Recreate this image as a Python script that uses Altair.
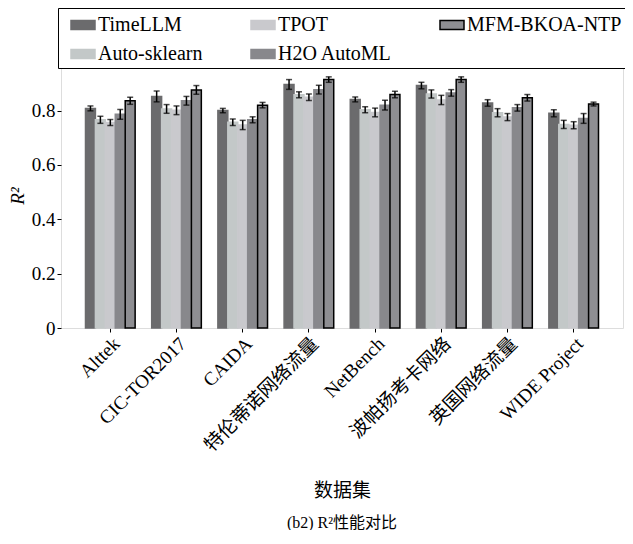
import altair as alt
import pandas as pd

datasets = ["Alttek", "CIC-TOR2017", "CAIDA", "特伦蒂诺网络流量", "NetBench",
            "波帕扬考卡网络", "英国网络流量", "WIDE Project"]
models = ["TimeLLM", "Auto-sklearn", "TPOT", "H2O AutoML", "MFM-BKOA-NTP"]

timellm = [0.808, 0.852, 0.800, 0.896, 0.841, 0.892, 0.828, 0.790]
autosk = [0.766, 0.806, 0.757, 0.858, 0.803, 0.861, 0.792, 0.749]
tpot = [0.756, 0.801, 0.747, 0.849, 0.793, 0.839, 0.776, 0.746]
h2o = [0.786, 0.836, 0.766, 0.877, 0.820, 0.865, 0.810, 0.771]
mfm = [0.836, 0.876, 0.820, 0.914, 0.859, 0.914, 0.847, 0.824]

err_timellm = [0.009, 0.020, 0.008, 0.018, 0.009, 0.012, 0.012, 0.013]
err_autosk = [0.013, 0.016, 0.012, 0.011, 0.011, 0.015, 0.015, 0.015]
err_tpot = [0.011, 0.016, 0.017, 0.012, 0.016, 0.017, 0.013, 0.013]
err_h2o = [0.018, 0.016, 0.011, 0.016, 0.018, 0.012, 0.012, 0.018]
err_mfm = [0.013, 0.016, 0.010, 0.010, 0.012, 0.010, 0.012, 0.007]

fills = ["#6b6b6d", "#c3c8c8", "#c9c9cd", "#88888c", "#8e8e92"]
strokes = ["#6b6b6d", "#c3c8c8", "#c9c9cd", "#88888c", "#000000"]

vals = [timellm, autosk, tpot, h2o, mfm]
errs = [err_timellm, err_autosk, err_tpot, err_h2o, err_mfm]
rows = []
for m, v, e in zip(models, vals, errs):
    for d, vv, ee in zip(datasets, v, e):
        rows.append({"dataset": d, "model": m, "r2": vv, "lo": vv - ee, "hi": vv + ee})
df = pd.DataFrame(rows)

FONT = "Liberation Serif, Noto Sans CJK SC"

x = alt.X("dataset:N", sort=datasets,
          scale=alt.Scale(paddingInner=0.25, paddingOuter=0.37),
          axis=alt.Axis(title="数据集", labelAngle=-45, labelFontSize=19,
                        labelFont=FONT, titleFont="Noto Sans CJK SC",
                        titleFontSize=19, titleFontWeight="normal",
                        titlePadding=27, tickSize=4, labelPadding=2,
                        domain=False, tickColor="black", labelColor="black",
                        titleColor="black"))
xoff = alt.XOffset("model:N", sort=models)
y = alt.Y("r2:Q", scale=alt.Scale(domain=[0, 0.975], nice=False),
          axis=alt.Axis(title="R²", titleFontStyle="italic", titleFont=FONT,
                        titleFontSize=19, titleFontWeight="normal",
                        values=[0, 0.2, 0.4, 0.6, 0.8], format=".1~f",
                        labelFont=FONT, labelFontSize=19, tickSize=4,
                        labelPadding=2, titlePadding=4, domain=False,
                        grid=False, tickColor="black",
                        labelColor="black", titleColor="black"))

legend = alt.Legend(title=None, orient="none", legendX=-3, legendY=-55,
                    columns=3, columnPadding=39, rowPadding=6,
                    symbolType="M-1,-0.37L1,-0.37L1,0.37L-1,0.37Z",
                    symbolSize=576, symbolStrokeWidth=1.5, symbolOffset=8,
                    labelFont=FONT, labelFontSize=20,
                    labelColor="black", labelOffset=2,
                    padding=4, strokeColor="black", fillColor="white")

bars = alt.Chart(df).mark_bar(strokeWidth=1.5).encode(
    x=x, xOffset=xoff, y=y,
    color=alt.Color("model:N", sort=models,
                    scale=alt.Scale(domain=models, range=fills), legend=legend),
    stroke=alt.Stroke("model:N", sort=models,
                      scale=alt.Scale(domain=models, range=strokes), legend=legend),
)

rule = alt.Chart(df).mark_rule(color="black", strokeWidth=1.5).encode(
    x=x, xOffset=xoff, y="lo:Q", y2="hi:Q")
cap_lo = alt.Chart(df).mark_tick(color="black", size=6, thickness=1.5).encode(
    x=x, xOffset=xoff, y="lo:Q")
cap_hi = alt.Chart(df).mark_tick(color="black", size=6, thickness=1.5).encode(
    x=x, xOffset=xoff, y="hi:Q")

chart = alt.layer(bars, rule, cap_lo, cap_hi).properties(
    width=562, height=265,
    autosize=alt.AutoSizeParams(type="none"),
    padding={"left": 53, "top": 55, "right": 2, "bottom": 202},
    title=alt.TitleParams("(b2) R²性能对比", orient="bottom", font=FONT,
                          fontSize=16, fontWeight="normal", color="black", offset=14),
).configure_view(stroke="black", strokeWidth=1.5).configure(background="white")

chart.save("out.html", embed_options={"renderer": "svg", "actions": False})
